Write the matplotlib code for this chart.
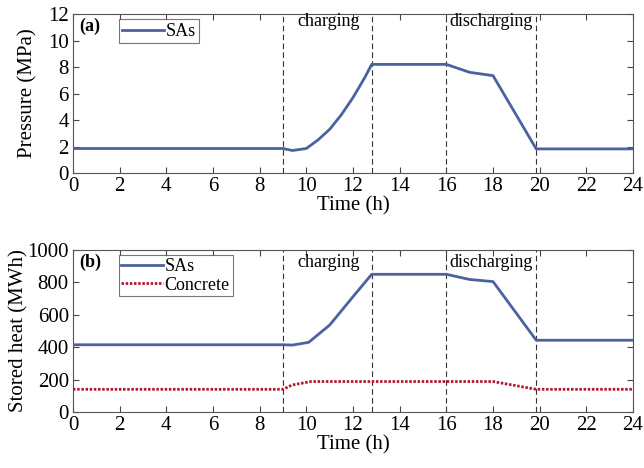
import matplotlib
matplotlib.use("Agg")
import matplotlib.pyplot as plt
import numpy as np

plt.rcParams['font.family'] = ['Liberation Serif', 'DejaVu Serif']
plt.rcParams['mathtext.fontset'] = 'stix'

# Data
t_p = [0, 9.0, 9.4, 10.0, 10.5, 11.0, 11.5, 12.0, 12.5, 12.8, 16.0, 17.0, 18.0, 19.85, 24]
pressure = [1.85, 1.85, 1.7, 1.85, 2.5, 3.3, 4.4, 5.7, 7.2, 8.2, 8.2, 7.6, 7.35, 1.82, 1.82]

t_h = [0, 9.0, 9.4, 10.1, 11.0, 12.0, 12.8, 16.0, 17.0, 18.0, 19.85, 24]
heat_sas = [415, 415, 413, 430, 537, 712, 850, 850, 818, 805, 443, 443]

t_c = [0, 9.0, 9.4, 10.2, 16.0, 18.0, 19.85, 24]
heat_con = [140, 140, 167, 188, 188, 188, 140, 140]

phase_lines = [9.0, 12.8, 16.0, 19.85]
phase_labels = ['charging', 'discharging']
phase_label_x = [10.95, 17.9]

xticks = list(range(0, 25, 2))

blue = '#4A62A0'
red = '#B2172E'

FS = 15

fig = plt.figure(figsize=(6.44, 4.68), dpi=100)
ax1 = fig.add_axes([0.1134, 0.6303, 0.8696, 0.3397])
ax2 = fig.add_axes([0.1134, 0.1197, 0.8696, 0.3461])

def style(ax):
    ax.set_xlim(0, 24)
    ax.set_xticks(xticks)
    ax.tick_params(direction='in', top=True, right=True, labelsize=FS,
                   length=4, color='#444444', pad=3)
    for s in ax.spines.values():
        s.set_color('#555555')
        s.set_linewidth(0.8)
    for v in phase_lines:
        ax.axvline(v, color='#333333', ls=(0, (5, 3)), lw=0.8, zorder=1)
    ax.set_xlabel('Time (h)', fontsize=FS, labelpad=0)

# Top panel
ax1.plot(t_p, pressure, color=blue, lw=2, label='SAs', zorder=3)
style(ax1)
ax1.set_ylim(0, 12)
ax1.set_yticks(range(0, 13, 2))
ax1.set_ylabel('Pressure (MPa)', fontsize=FS, labelpad=8)
ax1.text(0.25, 11.7, '(a)', fontsize=13, fontweight='bold', va='top')
for lab, x in zip(phase_labels, phase_label_x):
    ax1.text(x, 11.4, lab, fontsize=13, ha='center', va='center')
leg1 = ax1.legend(loc='upper left', bbox_to_anchor=(0.075, 0.99), fontsize=13,
                  frameon=True, fancybox=False, edgecolor='#555555',
                  handlelength=2.3, handletextpad=0.1, borderpad=0.2,
                  borderaxespad=0.2)
leg1.get_frame().set_linewidth(0.8)

# Bottom panel
ax2.plot(t_h, heat_sas, color=blue, lw=2, label='SAs', zorder=3)
ax2.plot(t_c, heat_con, color=red, lw=2, ls=(0, (0.9, 0.6)), label='Concrete', zorder=3)
style(ax2)
ax2.set_ylim(0, 1000)
ax2.set_yticks(range(0, 1001, 200))
ax2.set_ylabel('Stored heat (MWh)', fontsize=FS, labelpad=-1)
ax2.text(0.25, 975, '(b)', fontsize=13, fontweight='bold', va='top')
for lab, x in zip(phase_labels, phase_label_x):
    ax2.text(x, 925, lab, fontsize=13, ha='center', va='center')
leg2 = ax2.legend(loc='upper left', bbox_to_anchor=(0.075, 0.99), fontsize=13,
                  frameon=True, fancybox=False, edgecolor='#555555',
                  handlelength=2.3, handletextpad=0.1, borderpad=0.15,
                  borderaxespad=0.2, labelspacing=0.1)
leg2.get_frame().set_linewidth(0.8)

fig.savefig('out.png', dpi=100)
